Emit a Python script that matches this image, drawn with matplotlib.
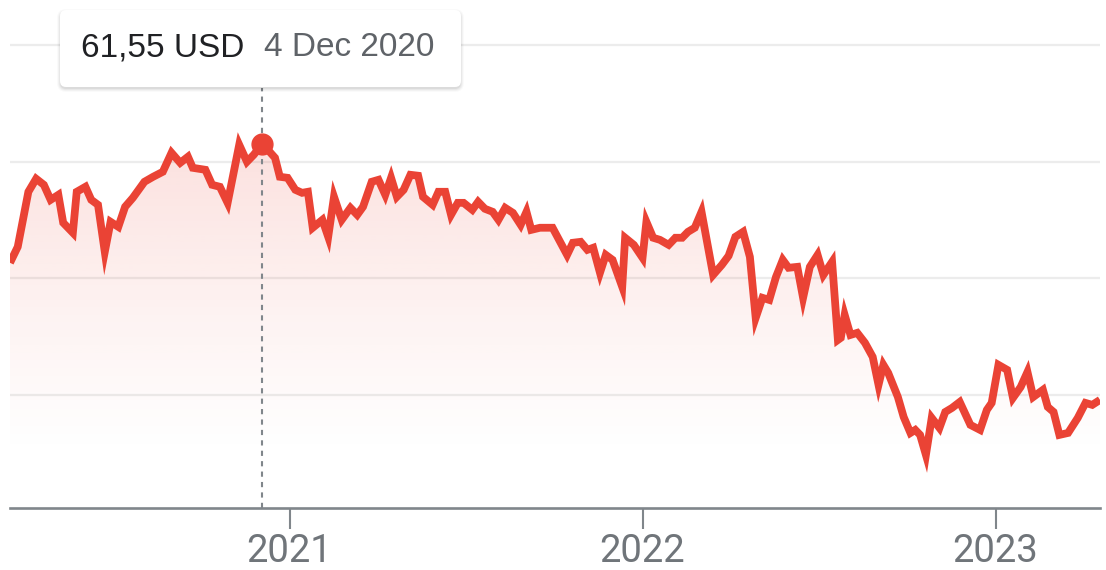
import numpy as np
import pandas as pd
import matplotlib
matplotlib.use("Agg")
import matplotlib.pyplot as plt
import matplotlib.dates as mdates
from matplotlib.patches import FancyBboxPatch, Polygon
from matplotlib.transforms import IdentityTransform

# Closing prices (USD)
dates = [
    "2020-03-18", "2020-03-26", "2020-04-06", "2020-04-14", "2020-04-22", "2020-04-29",
    "2020-05-07", "2020-05-12", "2020-05-22", "2020-05-26", "2020-06-04", "2020-06-10",
    "2020-06-17", "2020-06-24", "2020-06-30", "2020-07-08", "2020-07-15", "2020-07-23",
    "2020-08-04", "2020-08-13", "2020-08-23", "2020-09-01", "2020-09-10", "2020-09-18",
    "2020-09-23", "2020-10-06", "2020-10-13", "2020-10-21", "2020-10-29", "2020-11-10",
    "2020-11-18", "2020-11-25", "2020-12-04", "2020-12-17", "2020-12-22", "2020-12-30",
    "2021-01-07", "2021-01-14", "2021-01-20", "2021-01-25", "2021-02-04", "2021-02-10",
    "2021-02-16", "2021-02-24", "2021-03-05", "2021-03-12", "2021-03-18", "2021-03-27",
    "2021-04-03", "2021-04-10", "2021-04-16", "2021-04-22", "2021-04-29", "2021-05-06",
    "2021-05-14", "2021-05-19", "2021-05-29", "2021-06-04", "2021-06-11", "2021-06-17",
    "2021-06-24", "2021-06-30", "2021-07-09", "2021-07-15", "2021-07-22", "2021-07-30",
    "2021-08-05", "2021-08-12", "2021-08-20", "2021-08-28", "2021-09-03", "2021-09-08",
    "2021-09-17", "2021-09-30", "2021-10-15", "2021-10-21", "2021-10-29", "2021-11-05",
    "2021-11-11", "2021-11-18", "2021-11-24", "2021-12-01", "2021-12-11", "2021-12-14",
    "2021-12-23", "2022-01-01", "2022-01-05", "2022-01-12", "2022-01-19", "2022-01-28",
    "2022-02-04", "2022-02-11", "2022-02-17", "2022-02-24", "2022-03-03", "2022-03-15",
    "2022-03-24", "2022-03-31", "2022-04-07", "2022-04-15", "2022-04-22", "2022-04-28",
    "2022-05-05", "2022-05-12", "2022-05-19", "2022-05-26", "2022-06-01", "2022-06-10",
    "2022-06-16", "2022-06-23", "2022-07-01", "2022-07-07", "2022-07-16", "2022-07-22",
    "2022-07-25", "2022-07-29", "2022-08-04", "2022-08-11", "2022-08-19", "2022-08-27",
    "2022-09-02", "2022-09-07", "2022-09-12", "2022-09-22", "2022-09-28", "2022-10-05",
    "2022-10-10", "2022-10-15", "2022-10-21", "2022-10-27", "2022-11-04", "2022-11-10",
    "2022-11-17", "2022-11-25", "2022-12-06", "2022-12-16", "2022-12-23", "2022-12-28",
    "2023-01-04", "2023-01-13", "2023-01-19", "2023-01-27", "2023-02-03", "2023-02-09",
    "2023-02-19", "2023-02-24", "2023-03-02", "2023-03-08", "2023-03-17", "2023-03-27",
    "2023-04-04", "2023-04-11", "2023-04-19",
]
prices = [
    51.32, 52.69, 57.42, 58.54, 58.02, 56.73,
    57.16, 54.76, 53.90, 57.42, 57.85, 56.73,
    56.30, 52.26, 54.84, 54.41, 56.13, 56.90,
    58.28, 58.71, 59.14, 60.77, 59.91, 60.43,
    59.48, 59.31, 58.02, 57.85, 56.47, 61.46,
    60.00, 60.60, 61.55, 60.34, 58.71, 58.62,
    57.59, 57.33, 57.42, 54.33, 55.01, 53.55,
    56.99, 55.01, 56.04, 55.44, 56.13, 58.28,
    58.45, 57.16, 58.62, 56.99, 57.59, 58.88,
    58.80, 56.99, 56.30, 57.42, 57.42, 55.44,
    56.47, 56.47, 55.87, 56.56, 55.96, 55.70,
    55.01, 56.04, 55.61, 54.58, 55.70, 54.15,
    54.33, 54.33, 52.00, 53.04, 53.12, 52.43,
    52.61, 50.46, 52.00, 51.57, 49.25, 53.47,
    52.86, 51.75, 54.84, 53.47, 53.29, 52.86,
    53.47, 53.47, 53.98, 54.33, 55.70, 50.28,
    51.14, 51.92, 53.55, 53.98, 51.83, 46.59,
    48.31, 48.13, 50.11, 51.57, 50.89, 50.97,
    48.31, 50.97, 52.00, 50.28, 51.40, 44.69,
    44.87, 46.84, 45.12, 45.30, 44.44, 43.23,
    40.83, 42.55, 41.86, 39.79, 38.07, 36.70,
    36.96, 36.53, 34.81, 37.99, 37.13, 38.50,
    38.85, 39.36, 37.39, 36.96, 38.68, 39.28,
    42.55, 42.12, 39.71, 40.65, 41.94, 39.79,
    40.40, 38.93, 38.50, 36.53, 36.70, 37.99,
    39.28, 39.11, 39.54,
]
tick_years = ["2021", "2022", "2023"]
grid_levels = [40, 50, 60, 70]
y_range = (30.25, 73.9)
focus_date = "2020-12-04"
currency = "USD"

LINE = "#ea4335"
W, H = 1106, 570

x = mdates.date2num(pd.to_datetime(dates))
y = np.asarray(prices)

fig = plt.figure(figsize=(W / 100, H / 100), dpi=100)
fig.patch.set_facecolor("white")
ax = fig.add_axes([10 / W, 62 / H, 1090 / W, 508 / H])
ax.set_xlim(x[0], x[-1])
ax.set_ylim(*y_range)
ax.set_facecolor("none")

# soft vertical gradient under the price line, fading out towards the low
grad = np.zeros((256, 1, 4))
grad[..., 0:3] = matplotlib.colors.to_rgb(LINE)
grad[:, 0, 3] = np.linspace(0.19, 0.0, 256) ** 1.1
im = ax.imshow(grad, extent=[x[0], x[-1], y.min(), y.max()], aspect="auto",
               origin="upper", zorder=1, interpolation="bilinear")
verts = np.column_stack([np.r_[x[0], x, x[-1]], np.r_[y_range[0], y, y_range[0]]])
clip = Polygon(verts, closed=True, transform=ax.transData, facecolor="none", edgecolor="none")
ax.add_patch(clip)
im.set_clip_path(clip)

ax.plot(x, y, color=LINE, lw=5.6, solid_joinstyle="miter", solid_capstyle="butt", zorder=3)

# highlighted point with its guide line
fx = mdates.date2num(pd.Timestamp(focus_date))
fval = prices[dates.index(focus_date)]
ax.axvline(fx, ymin=0, ymax=1 - 88 / 508, color="#80868b", lw=1.5, dashes=(2.5, 2.5), zorder=2)
ax.plot([fx], [fval], "o", ms=15, color=LINE, zorder=4)

# grid and axis
ax.set_yticks(grid_levels)
ax.yaxis.grid(True, color="#ececec", lw=1.6)
ax.tick_params(axis="y", length=0, labelleft=False)
for side in ("left", "right", "top"):
    ax.spines[side].set_visible(False)
ax.spines["bottom"].set_color("#80868b")
ax.spines["bottom"].set_linewidth(1.9)
ax.set_axisbelow(True)

year_ticks = [mdates.date2num(pd.Timestamp(f"{yr}-01-01")) for yr in tick_years]
ax.set_xticks(year_ticks)
ax.set_xticklabels(tick_years, fontfamily="Roboto", fontsize=27.5, color="#70757a")
ax.tick_params(axis="x", length=15, width=1.5, color="#80868b", pad=3)

# tooltip card
ident = IdentityTransform()
bx0, by0, bw, bh = 60, H - 87, 401, 77
for i, a in enumerate([0.05, 0.04, 0.03, 0.02]):
    sh = FancyBboxPatch((bx0 - i, by0 - 2 - i), bw + 2 * i, bh + 2 * i,
                        boxstyle=f"round,pad=0,rounding_size={6 + i}",
                        transform=ident, facecolor="black", edgecolor="none",
                        alpha=a, zorder=5)
    fig.patches.append(sh)
card = FancyBboxPatch((bx0, by0), bw, bh, boxstyle="round,pad=0,rounding_size=6",
                      transform=ident, facecolor="white", edgecolor="none", zorder=6)
fig.patches.append(card)

price_txt = f"{fval:.2f}".replace(".", ",") + f" {currency}"
date_txt = pd.Timestamp(focus_date).strftime("%-d %b %Y")
fig.text(81, H - 48, price_txt, transform=ident, fontfamily="Liberation Sans", fontsize=24,
         color="#202124", va="center", ha="left", zorder=7)
fig.text(264, H - 48, date_txt, transform=ident, fontfamily="Liberation Sans", fontsize=24,
         color="#5f6368", va="center", ha="left", zorder=7)

fig.savefig("out.png", dpi=100, facecolor="white")
